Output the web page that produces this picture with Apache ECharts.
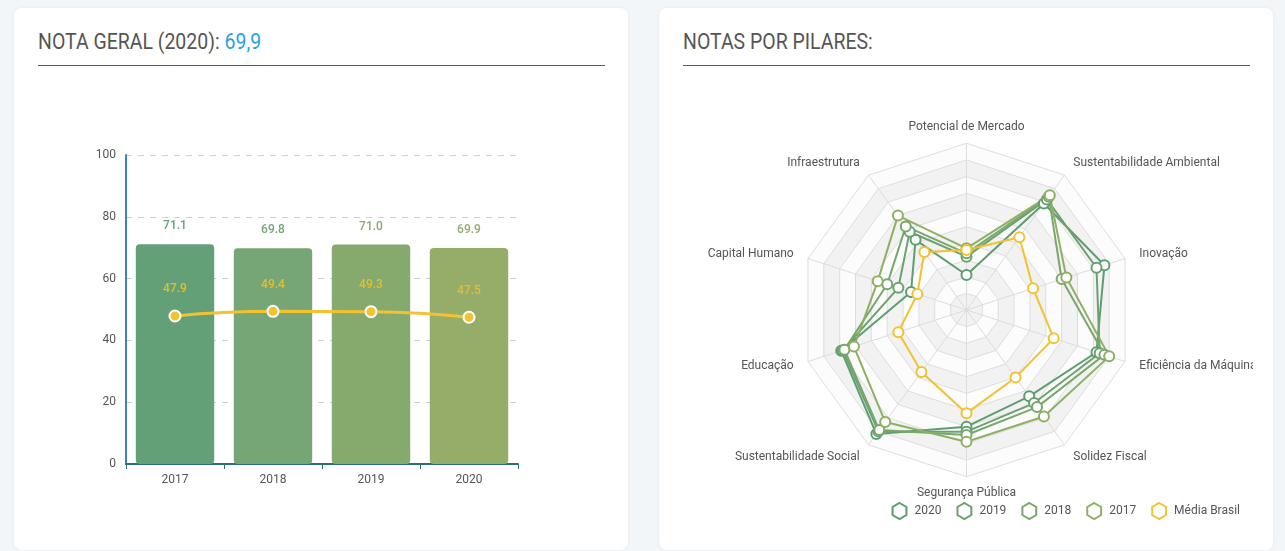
<!DOCTYPE html>
<html>
<head>
<meta charset="utf-8">
<script src="https://cdn.jsdelivr.net/npm/echarts@6/dist/echarts.min.js"></script>
<style>
  html, body { margin: 0; padding: 0; background: #f3f6f8; font-family: Roboto, sans-serif; }
  .card { position: absolute; top: 8px; height: 542px; background: #fff; border-radius: 8px;
          box-shadow: 0 0 4px rgba(0,0,0,0.06); }
  .title { position: absolute; left: 24px; top: 21px; font-size: 22px; color: #555;
           transform: scaleX(0.885); transform-origin: left; white-space: nowrap; }
  .title span { color: #2ba2e2; }
  .rule { position: absolute; left: 24px; right: 23px; top: 57px; border-top: 1.5px solid #555b62; }
  .chart { position: absolute; left: 24px; top: 68px; width: 567px; height: 462px; }
</style>
</head>
<body>
<div class="card" style="left:14px; width:614px;">
  <div class="title">NOTA GERAL (2020): <span>69,9</span></div>
  <div class="rule"></div>
  <div id="bar" class="chart"></div>
</div>
<div class="card" style="left:659px; width:614px;">
  <div class="title">NOTAS POR PILARES:</div>
  <div class="rule"></div>
  <div id="radar" class="chart" style="width:570px;"></div>
</div>
<script>
  // nota geral por ano
  const years = ['2017', '2018', '2019', '2020']
  const notaGeral = [71.1, 69.8, 71.0, 69.9]
  const mediaBrasil = [47.9, 49.4, 49.3, 47.5]
  const barColors = ['#63a077', '#76a676', '#86a96e', '#95ad69']

  // pilares (ordem do radar, anti-horário a partir do topo)
  const pilares = ['Potencial de Mercado', 'Infraestrutura', 'Capital Humano', 'Educação',
    'Sustentabilidade Social', 'Segurança Pública', 'Solidez Fiscal',
    'Eficiência da Máquina Pública', 'Inovação', 'Sustentabilidade Ambiental']
  const pilares2020 = [21, 52, 35, 79, 92, 70, 64, 82, 87, 79]
  const pilares2019 = [32, 58, 43, 78, 90, 73, 69, 84, 82, 82]
  const pilares2018 = [34, 62, 50, 77, 89, 75, 72, 87, 60, 84]
  const pilares2017 = [37, 70, 56, 71, 83, 79, 79, 90, 63, 85]
  const pilaresMedia = [36, 43, 31, 43, 46, 62, 50, 55, 42, 54]

  const yellow = '#f2c230'
  const textColor = '#555'
  const radarColors = ['#5e9d70', '#6aa26e', '#78a76b', '#8eb063', yellow]
  const seriesNames = ['2020', '2019', '2018', '2017', 'Média Brasil']

  // grafico de barras
  const barChart = echarts.init(document.getElementById('bar'))
  barChart.setOption({
    textStyle: { fontFamily: 'Roboto' },
    grid: { left: 88, right: 87, top: 79, bottom: 74 },
    xAxis: {
      type: 'category',
      data: years,
      axisLine: { lineStyle: { color: '#2d6d7e', width: 2 } },
      axisTick: { show: true, lineStyle: { color: '#2d6d7e' } },
      axisLabel: { color: textColor, fontSize: 12, margin: 10 },
    },
    yAxis: {
      type: 'value',
      min: 0,
      max: 100,
      interval: 20,
      axisLine: { show: true, lineStyle: { color: '#3b82c4', width: 2 } },
      axisTick: { show: false },
      axisLabel: { color: textColor, fontSize: 12, margin: 10 },
      splitLine: { lineStyle: { color: '#cfcfcf', type: [6, 6] } },
    },
    series: [
      {
        type: 'bar',
        barWidth: '80%',
        data: notaGeral.map((v, i) => ({
          value: v,
          itemStyle: { color: barColors[i] },
          label: { color: barColors[i] },
        })),
        itemStyle: { borderRadius: 4 },
        label: {
          show: true,
          position: 'top',
          distance: 12,
          fontSize: 12,
          fontWeight: 500,
          formatter: p => p.value.toFixed(1),
        },
      },
      {
        type: 'line',
        data: mediaBrasil,
        smooth: true,
        symbol: 'circle',
        symbolSize: 11,
        lineStyle: { color: yellow, width: 3 },
        itemStyle: { color: yellow, borderColor: '#fff', borderWidth: 2 },
        label: {
          show: true,
          position: 'top',
          distance: 14,
          color: '#e9bd2a',
          fontSize: 12,
          fontWeight: 500,
          formatter: p => p.value.toFixed(1),
        },
      },
    ],
  })

  // grafico radar
  const hexagon = 'path://M50,0 L93.3,25 L93.3,75 L50,100 L6.7,75 L6.7,25 Z'
  const radarChart = echarts.init(document.getElementById('radar'))
  radarChart.setOption({
    textStyle: { fontFamily: 'Roboto' },
    color: radarColors,
    legend: {
      right: 8,
      top: 421,
      itemWidth: 20,
      itemHeight: 16,
      itemGap: 15,
      textStyle: { color: textColor, fontSize: 12 },
      data: seriesNames.map((name, i) => ({
        name: name,
        icon: hexagon,
        itemStyle: { color: '#fff', borderColor: radarColors[i], borderWidth: 2 },
      })),
    },
    radar: {
      center: [283.5, 234],
      radius: 166.7,
      splitNumber: 10,
      indicator: pilares.map(name => ({ name: name, max: 100 })),
      axisName: {
        color: textColor,
        fontSize: 12,
        // topo e base ficam mais perto do polígono
        formatter: (name, ind) => (name === pilares[0] || name === pilares[5]) ? '{t|' + name + '}' : name,
        rich: { t: { lineHeight: 2, fontSize: 12, color: textColor } },
      },
      axisLine: { lineStyle: { color: '#ddd' } },
      splitLine: { lineStyle: { color: '#ddd' } },
      splitArea: { areaStyle: { color: ['#f2f2f2', '#fcfcfc'] } },
    },
    series: [
      {
        type: 'radar',
        symbol: 'emptyCircle',
        symbolSize: 10,
        lineStyle: { width: 2 },
        data: [
          { name: '2020', value: pilares2020 },
          { name: '2019', value: pilares2019 },
          { name: '2018', value: pilares2018 },
          { name: '2017', value: pilares2017 },
          { name: 'Média Brasil', value: pilaresMedia },
        ],
      },
    ],
  })
</script>
</body>
</html>
